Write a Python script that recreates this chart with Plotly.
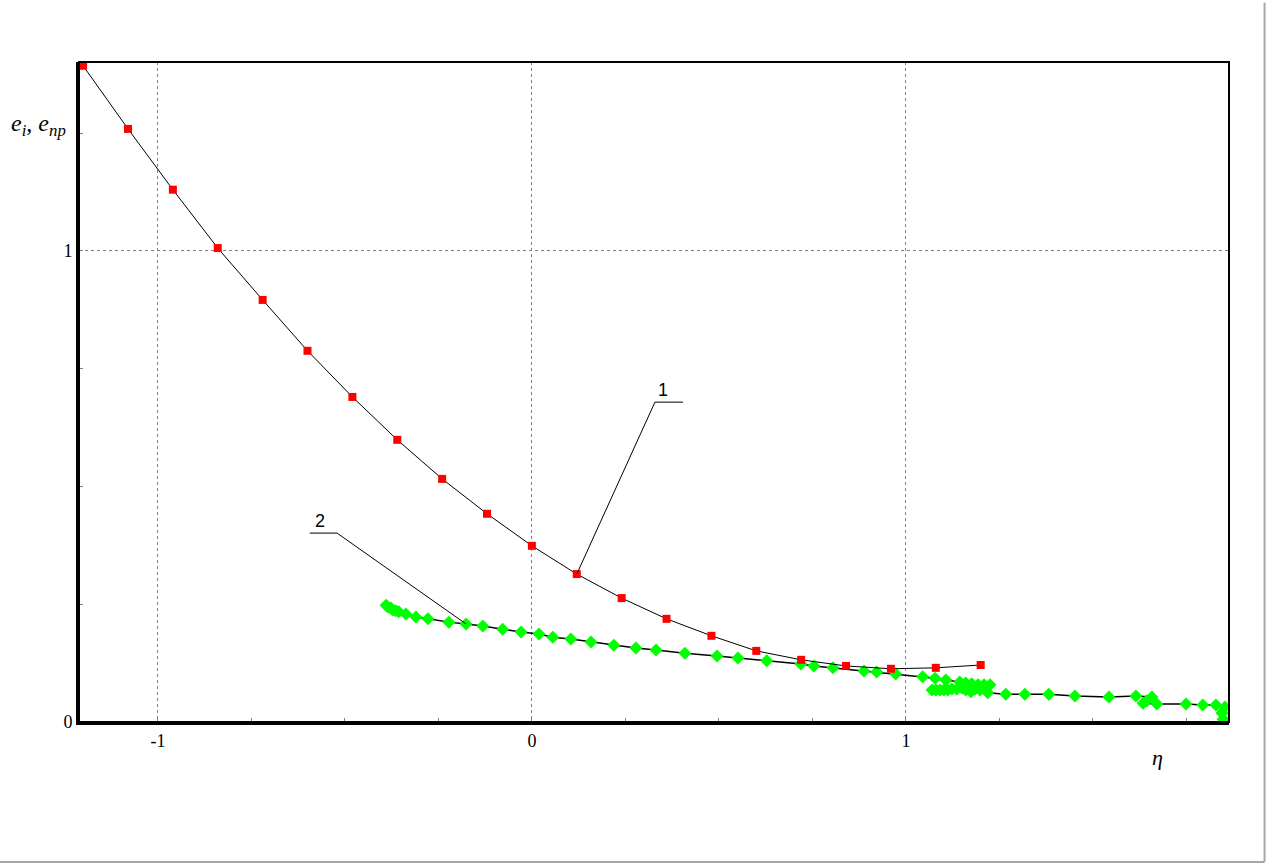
import plotly.graph_objects as go

# Series 1 (red squares)
x1 = [-1.20, -1.08, -0.96, -0.84, -0.72, -0.60, -0.48, -0.36, -0.24, -0.12, 0.00,
      0.12, 0.24, 0.36, 0.48, 0.60, 0.72, 0.84, 0.96, 1.08, 1.20]
y1 = [1.393, 1.259, 1.130, 1.006, 0.896, 0.788, 0.690, 0.599, 0.516, 0.442, 0.374,
      0.314, 0.263, 0.219, 0.183, 0.151, 0.132, 0.119, 0.113, 0.115, 0.121]

# Series 2 (green diamonds)
x2 = [-0.390, -0.385, -0.377, -0.372, -0.364, -0.356, -0.337, -0.310, -0.278, -0.222,
      -0.176, -0.131, -0.078, -0.029, 0.019, 0.056, 0.104, 0.158, 0.219, 0.278,
      0.332, 0.409, 0.495, 0.551, 0.628, 0.719, 0.754, 0.805, 0.888, 0.922,
      0.973, 1.045, 1.078, 1.107, 1.144, 1.160, 1.176, 1.193, 1.209, 1.225,
      1.070, 1.080, 1.091, 1.102, 1.112, 1.123, 1.136, 1.150, 1.160, 1.166,
      1.174, 1.185, 1.198, 1.219, 1.267, 1.318, 1.382, 1.452, 1.543, 1.615,
      1.658, 1.644, 1.634, 1.671, 1.749, 1.794, 1.829, 1.853, 1.845, 1.848]
y2 = [0.248, 0.244, 0.242, 0.238, 0.236, 0.234, 0.229, 0.223, 0.219, 0.212,
      0.208, 0.204, 0.197, 0.191, 0.187, 0.180, 0.176, 0.170, 0.163, 0.157,
      0.153, 0.146, 0.140, 0.136, 0.130, 0.123, 0.119, 0.115, 0.108, 0.106,
      0.102, 0.096, 0.093, 0.089, 0.085, 0.083, 0.081, 0.079, 0.079, 0.079,
      0.068, 0.068, 0.068, 0.068, 0.068, 0.070, 0.070, 0.072, 0.068, 0.072,
      0.064, 0.070, 0.068, 0.062, 0.059, 0.059, 0.059, 0.055, 0.053, 0.055,
      0.053, 0.045, 0.040, 0.038, 0.038, 0.036, 0.036, 0.032, 0.019, 0.006]

x_ticks = [-1, 0, 1]
y_ticks = [0, 1]

SERIF = "Liberation Serif"

fig = go.Figure()
fig.add_trace(go.Scatter(x=x2, y=y2, mode="lines+markers",
                         line=dict(color="black", width=1.5),
                         marker=dict(symbol="diamond", size=10, color="#00FF00",
                                     line=dict(width=0))))
fig.add_trace(go.Scatter(x=x1, y=y1, mode="lines+markers",
                         line=dict(color="black", width=1),
                         marker=dict(symbol="square", size=8, color="#FF0000",
                                     line=dict(width=0))))

shapes = []
# leader line for label 1 -> red point at index 11
shapes.append(dict(type="line", xref="x", yref="y", x0=x1[11], y0=y1[11], x1=0.329, y1=0.679,
                   line=dict(color="black", width=1)))
shapes.append(dict(type="line", xref="x", yref="y", x0=0.329, y0=0.679, x1=0.404, y1=0.679,
                   line=dict(color="black", width=1)))
# leader line for label 2 -> green point at index 10
shapes.append(dict(type="line", xref="x", yref="y", x0=x2[10], y0=y2[10], x1=-0.521, y1=0.401,
                   line=dict(color="black", width=1)))
shapes.append(dict(type="line", xref="x", yref="y", x0=-0.521, y0=0.401, x1=-0.594, y1=0.401,
                   line=dict(color="black", width=1)))
# frame (top/right)
shapes.append(dict(type="rect", xref="paper", yref="paper", x0=0, y0=0, x1=1, y1=1,
                   line=dict(color="black", width=2), layer="above"))
# window border (right / bottom)
shapes.append(dict(type="line", xref="paper", yref="paper", x0=1.0309, y0=-0.2121, x1=1.0309, y1=1.09,
                   line=dict(color="#A8A8A0", width=2)))
shapes.append(dict(type="line", xref="paper", yref="paper", x0=-0.07, y0=-0.2121, x1=1.0309, y1=-0.2121,
                   line=dict(color="#A8A8A0", width=2)))

annotations = [
    dict(x=0.351, y=0.679, xref="x", yref="y", text="1", showarrow=False,
         yanchor="bottom", font=dict(family="Arial", size=18, color="black")),
    dict(x=-0.567, y=0.401, xref="x", yref="y", text="2", showarrow=False,
         yanchor="bottom", font=dict(family="Arial", size=18, color="black")),
    dict(x=-0.061, y=0.905, xref="paper", yref="paper",
         text="<i>e<sub>i</sub>, e<sub>np</sub></i>", showarrow=False,
         xanchor="left", yanchor="middle", font=dict(family=SERIF, size=24, color="black")),
    dict(x=0.938, y=-0.032, xref="paper", yref="paper", text="<i>η</i>", showarrow=False,
         xanchor="center", yanchor="top", font=dict(family=SERIF, size=22, color="black")),
]

fig.update_layout(
    width=1268, height=864,
    margin=dict(l=79, r=39, t=62, b=142),
    paper_bgcolor="white", plot_bgcolor="white",
    showlegend=False,
    shapes=shapes, annotations=annotations,
    xaxis=dict(range=[-1.211, 1.864], tickvals=x_ticks, ticktext=[str(v) for v in x_ticks],
               showgrid=True, gridcolor="#808080", griddash="3px,3px", gridwidth=1,
               zeroline=False, showline=True, linecolor="black", linewidth=3,
               ticks="", tickfont=dict(family=SERIF, size=18, color="black"),
               minor=dict(dtick=0.25, tick0=0, ticks="inside", ticklen=4, tickcolor="#808080",
                          showgrid=False)),
    yaxis=dict(range=[0, 1.401], tickvals=y_ticks, ticktext=[str(v) for v in y_ticks],
               showgrid=True, gridcolor="#808080", griddash="3px,3px", gridwidth=1,
               zeroline=False, showline=True, linecolor="black", linewidth=3,
               ticks="", tickfont=dict(family=SERIF, size=18, color="black"),
               minor=dict(dtick=0.25, tick0=0, ticks="inside", ticklen=4, tickcolor="#808080",
                          showgrid=False)),
)

fig.write_html("out.html", config={"displayModeBar": False},
               post_script="document.body.style.margin='0';document.body.style.overflow='hidden';")
